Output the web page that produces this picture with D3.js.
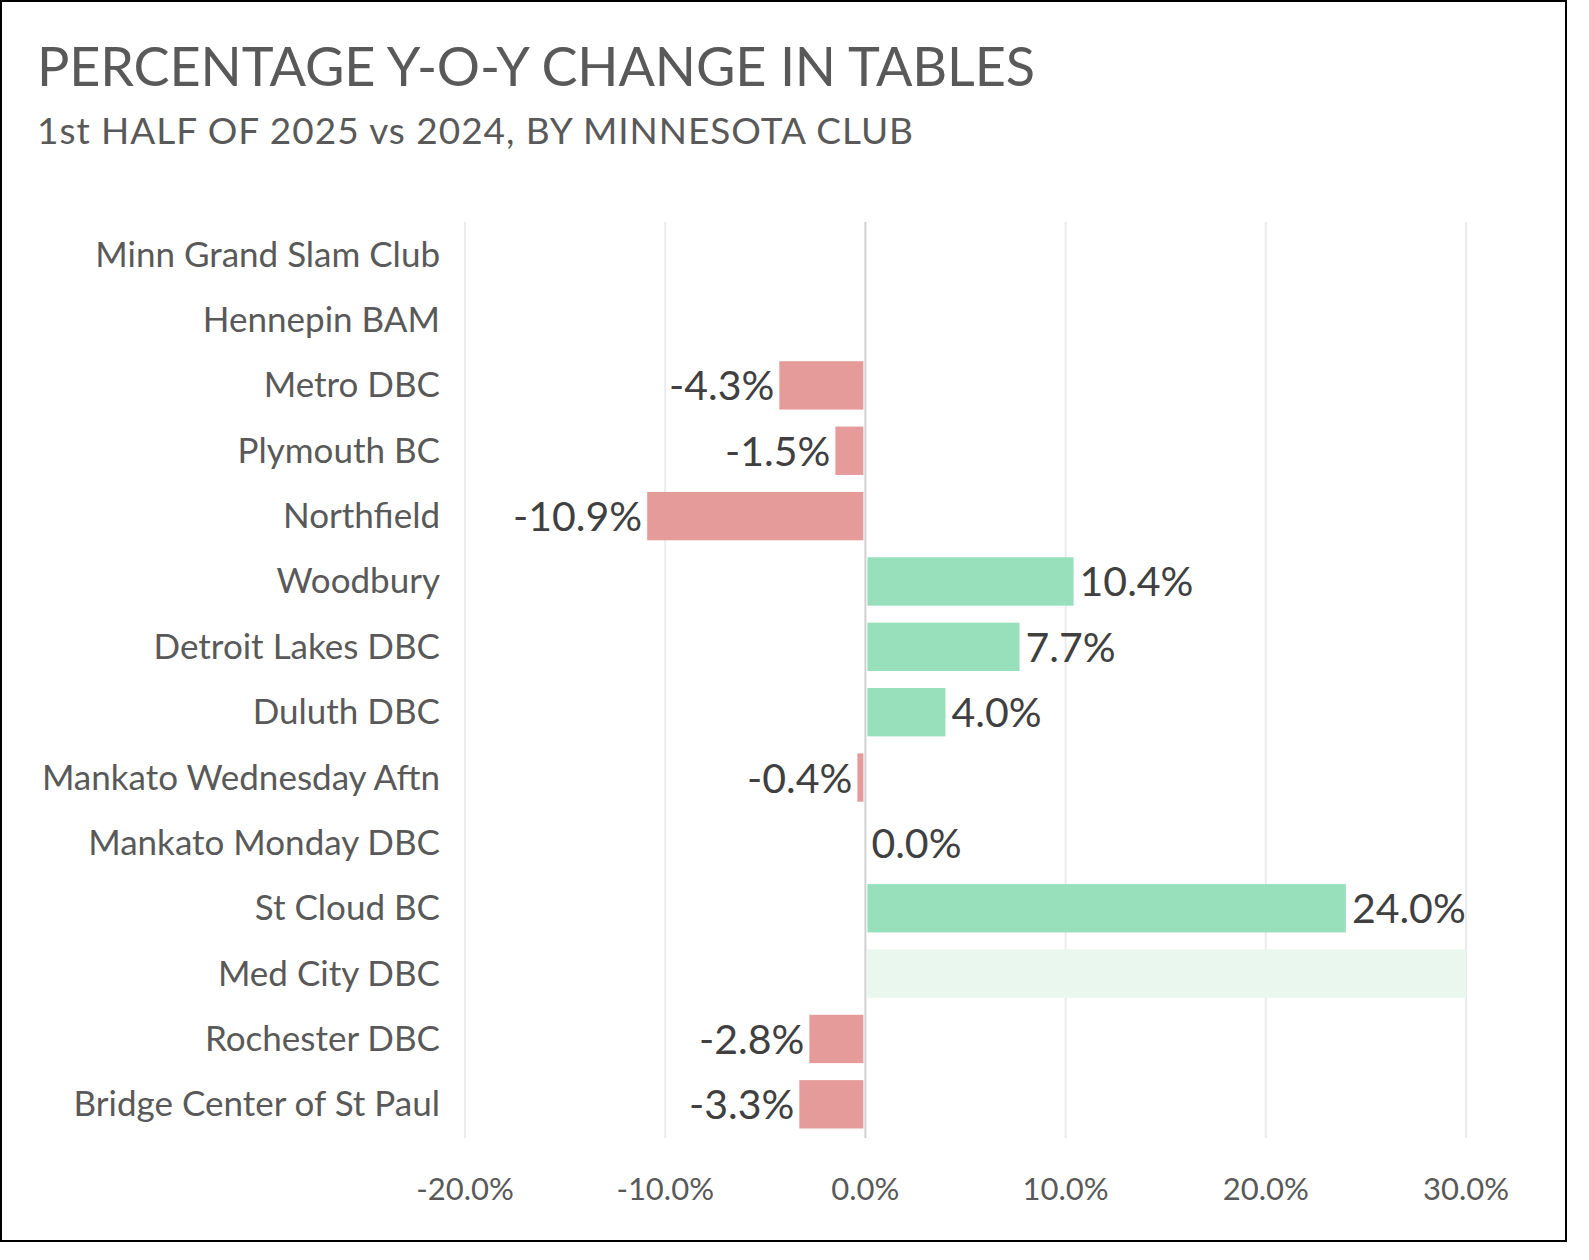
<!DOCTYPE html>
<html>
<head>
<meta charset="utf-8">
<script src="https://cdn.jsdelivr.net/npm/d3@7"></script>
<style>
  body { margin:0; background:#fff; }
  svg { font-family: Lato, "Noto Sans", sans-serif; }
</style>
</head>
<body>
<div id="chart"></div>
<script>
var clubs = ["Minn Grand Slam Club", "Hennepin BAM", "Metro DBC", "Plymouth BC", "Northfield",
  "Woodbury", "Detroit Lakes DBC", "Duluth DBC", "Mankato Wednesday Aftn", "Mankato Monday DBC",
  "St Cloud BC", "Med City DBC", "Rochester DBC", "Bridge Center of St Paul"];
var changes = [null, null, -4.3, -1.5, -10.9, 10.4, 7.7, 4.0, -0.4, 0.0, 24.0, 40.0, -2.8, -3.3];
var ticks = [-20, -10, 0, 10, 20, 30];

var pct = d => d3.format(".1f")(d).replace("\u2212", "-") + "%";

var svg = d3.select("#chart").append("svg").attr("width", 1589).attr("height", 1260);
svg.append("rect").attr("x", 1).attr("y", 1).attr("width", 1565).attr("height", 1240)
  .attr("fill", "#fff").attr("stroke", "#000").attr("stroke-width", 2);

svg.append("text").attr("x", 37).attr("y", 86).attr("font-size", 54).attr("fill", "#595959")
  .attr("textLength", 998).text("PERCENTAGE Y-O-Y CHANGE IN TABLES");
svg.append("text").attr("x", 37).attr("y", 144).attr("font-size", 37).attr("fill", "#595959")
  .attr("textLength", 876).text("1st HALF OF 2025 vs 2024, BY MINNESOTA CLUB");

var x = d3.scaleLinear().domain([-20, 30]).range([465, 1466]);
var y = d3.scaleBand().domain(clubs).range([222, 1137]).paddingInner(0.26).paddingOuter(0.13);

svg.selectAll(".grid").data(ticks).enter().append("line")
  .attr("x1", d => x(d)).attr("x2", d => x(d)).attr("y1", 222).attr("y2", 1138)
  .attr("stroke", d => d === 0 ? "#d0d0d0" : "#ebebeb").attr("stroke-width", 2);

var data = clubs.map((c, i) => ({club: c, v: changes[i]})).filter(d => d.v !== null);

svg.selectAll(".bar").data(data).enter().append("rect")
  .attr("x", d => x(Math.min(0, d.v)) + (d.v >= 0 ? 2 : 0))
  .attr("width", d => Math.max(0, Math.abs(x(Math.min(d.v, 30)) - x(0)) - 2))
  .attr("y", d => y(d.club)).attr("height", y.bandwidth())
  .attr("fill", d => d.club === "Med City DBC" ? "#eaf7ef" : (d.v < 0 ? "#e69b9b" : "#98e0bb"));

svg.selectAll(".val").data(data.filter(d => d.v <= 30)).enter().append("text")
  .attr("x", d => d.v < 0 ? x(d.v) - 5 : x(d.v) + 6)
  .attr("y", d => y(d.club) + y.bandwidth() / 2 + 15)
  .attr("text-anchor", d => d.v < 0 ? "end" : "start")
  .attr("font-size", 41).attr("fill", "#404040")
  .text(d => pct(d.v));

svg.selectAll(".cat").data(clubs).enter().append("text")
  .attr("x", 440).attr("y", d => y(d) + y.bandwidth() / 2 + 12)
  .attr("text-anchor", "end").attr("font-size", 35).attr("fill", "#595959")
  .text(d => d);

svg.selectAll(".tick").data(ticks).enter().append("text")
  .attr("x", d => x(d)).attr("y", 1200).attr("text-anchor", "middle")
  .attr("font-size", 31).attr("fill", "#595959")
  .text(d => pct(d));
</script>
</body>
</html>
